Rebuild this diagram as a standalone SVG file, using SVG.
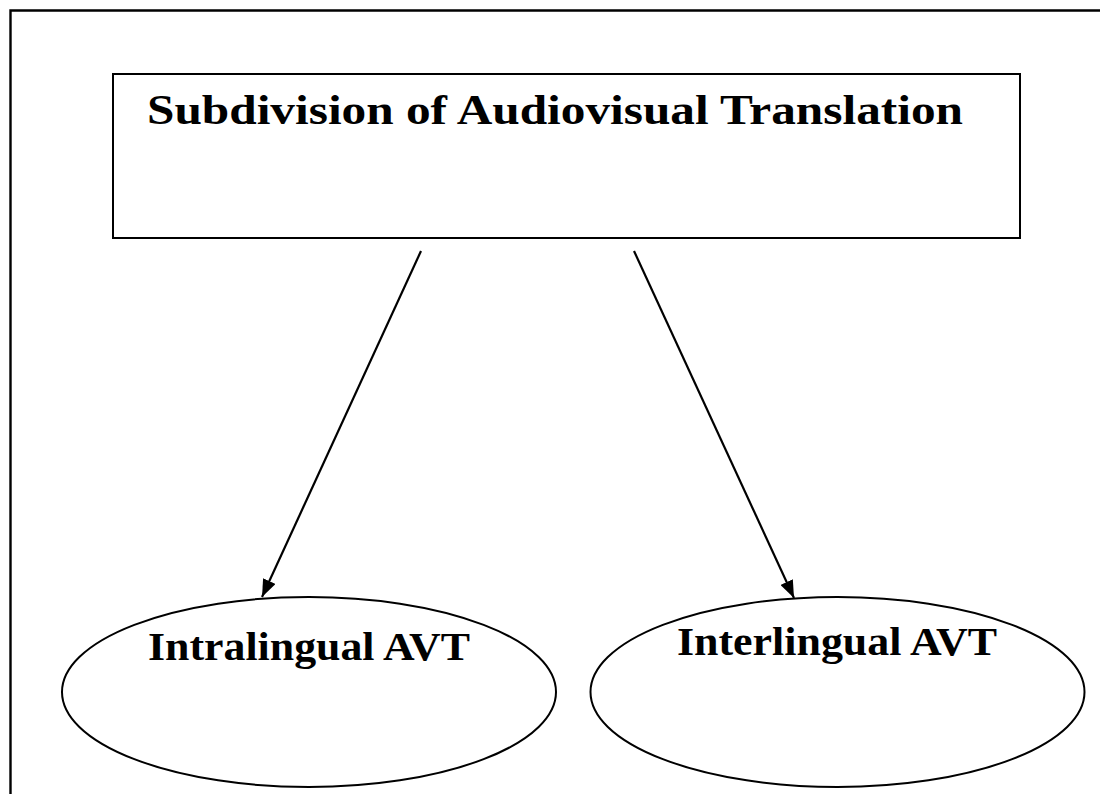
<svg xmlns="http://www.w3.org/2000/svg" width="1100" height="794" viewBox="0 0 1100 794">
<style>
.shape{fill:#fff;stroke:#000;stroke-width:2}
.lbl{font-family:"Liberation Serif","Times New Roman",serif;font-weight:bold;fill:#000}
.conn{stroke:#000;stroke-width:2.2;fill:none}
</style>
<defs>
<marker id="arr" viewBox="0 0 18 14" refX="18" refY="7" markerWidth="8" markerHeight="6.2" orient="auto" markerUnits="strokeWidth">
<path d="M0,0 L18,7 L0,14 z" fill="#000"/>
</marker>
</defs>
<rect width="1100" height="794" fill="#fff"/>
<path d="M10.5,800 L10.5,10.5 L1110,10.5" fill="none" stroke="#000" stroke-width="2.4"/>
<g id="root">
<rect class="shape" x="113" y="74" width="907" height="164"/>
<text class="lbl" x="147" y="124" font-size="42" textLength="816" lengthAdjust="spacingAndGlyphs">Subdivision of Audiovisual Translation</text>
</g>
<g id="intralingual">
<ellipse class="shape" cx="309" cy="692" rx="247" ry="95"/>
<text class="lbl" x="148" y="660" font-size="40" textLength="322" lengthAdjust="spacingAndGlyphs">Intralingual AVT</text>
</g>
<g id="interlingual">
<ellipse class="shape" cx="837.5" cy="692" rx="247" ry="95"/>
<text class="lbl" x="677" y="655" font-size="40" textLength="320" lengthAdjust="spacingAndGlyphs">Interlingual AVT</text>
</g>
<g id="connectors">
<line class="conn" x1="421" y1="251" x2="262" y2="597" marker-end="url(#arr)"/>
<line class="conn" x1="634" y1="251" x2="794" y2="598" marker-end="url(#arr)"/>
</g>
</svg>
